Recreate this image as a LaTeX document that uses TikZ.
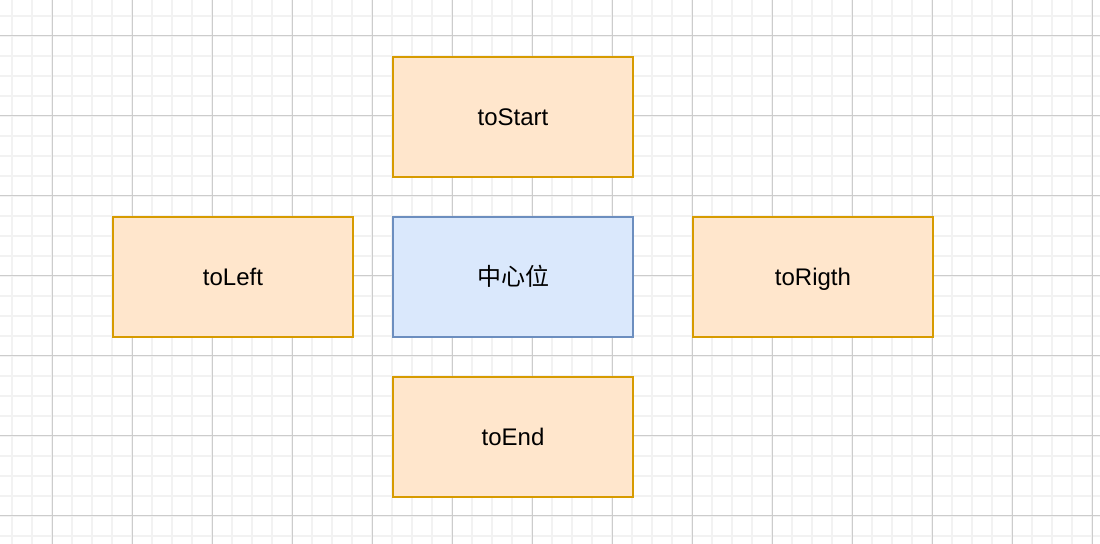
\documentclass[tikz,border=0pt]{standalone}
\usepackage{fontspec}
\setmainfont{Liberation Sans}
\newfontfamily\cjkfont{Noto Sans CJK SC}
\usetikzlibrary{positioning}
\usepackage{xcolor}

\begin{document}
\begin{tikzpicture}[x=0.5pt, y=-0.5pt,
    dirbox/.style={draw=dirLine, fill=dirFill, line width=1pt, rectangle,
      minimum width=120pt, minimum height=60pt, inner sep=0pt,
      text height=10pt, text depth=1.2pt, font=\fontsize{12pt}{14pt}\selectfont},
    midbox/.style={dirbox, draw=midLine, fill=midFill}]
                \colorlet{minorGrid}{black!5}
                \colorlet{majorGrid}{black!20}
                \definecolor{dirFill}{HTML}{FFE6CC}
                \definecolor{dirLine}{HTML}{D79B00}
                \definecolor{midFill}{HTML}{DAE8FC}
                \definecolor{midLine}{HTML}{6C8EBF}
                \fill[white] (0,0) rectangle (1100,544);
                \useasboundingbox (0,0) rectangle (1100,544);
                \begin{scope}[minorGrid, line width=0.9pt]
                  \foreach \i in {12,32,...,1092} {
                    \draw (\i,0) -- (\i,544);
                  }
                  \foreach \i in {16,36,...,536} {
                    \draw (0,\i) -- (1100,\i);
                  }
                \end{scope}
                \begin{scope}[majorGrid, line width=0.5pt]
                  \foreach \i in {52,132,...,1092} {
                    \draw (\i,0) -- (\i,544);
                  }
                  \foreach \i in {36,116,...,516} {
                    \draw (0,\i) -- (1100,\i);
                  }
                \end{scope}
                \node[midbox] (mid) at (513,277) {\cjkfont 中心位};
                \node[dirbox, above=19pt of mid] (toStart) {toStart};
                \node[dirbox, below=19pt of mid] (toEnd) {toEnd};
                \node[dirbox, left=19pt of mid] (toLeft) {toLeft};
                \node[dirbox, right=29pt of mid] (toRigth) {toRigth};
              \end{tikzpicture}
\end{document}
